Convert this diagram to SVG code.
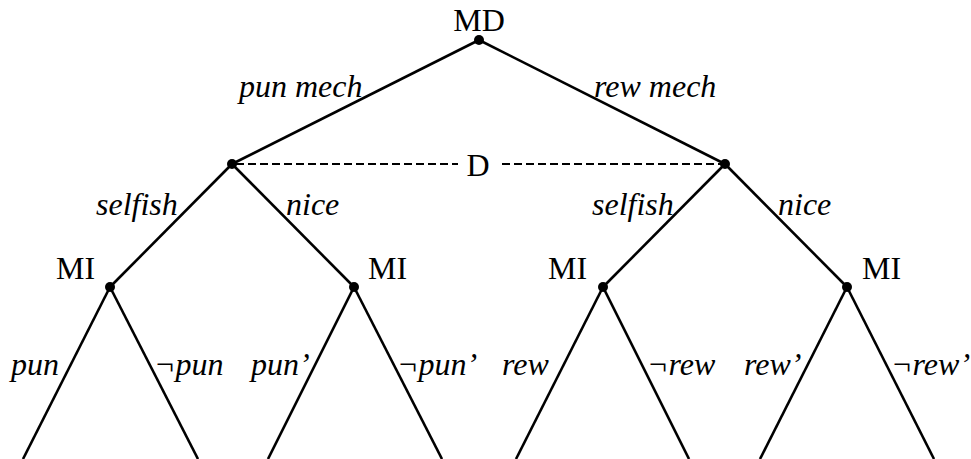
<svg xmlns="http://www.w3.org/2000/svg" width="971" height="459" viewBox="0 0 971 459">
<style>
  .edge { stroke: #000; stroke-width: 2.6; fill: none; stroke-linecap: butt; }
  .dash { stroke: #000; stroke-width: 2; fill: none; stroke-dasharray: 8 4; }
  .dot { fill: #000; }
  .lbl { font-family: "Liberation Serif", "Times New Roman", serif; font-size: 32px; fill: #000; }
  .it { font-family: "Liberation Serif", "Times New Roman", serif; font-size: 32px; font-style: italic; fill: #000; }
</style>
<rect width="971" height="459" fill="#fff"/>
<g id="connectors">
  <line class="edge" x1="479" y1="40" x2="232" y2="164"/>
  <line class="edge" x1="479" y1="40" x2="725" y2="164"/>
  <line class="edge" x1="232" y1="164" x2="110" y2="287"/>
  <line class="edge" x1="232" y1="164" x2="354" y2="287"/>
  <line class="edge" x1="725" y1="164" x2="603" y2="287"/>
  <line class="edge" x1="725" y1="164" x2="847" y2="287"/>
  <line class="edge" x1="110" y1="287" x2="23" y2="459"/>
  <line class="edge" x1="110" y1="287" x2="198" y2="459"/>
  <line class="edge" x1="354" y1="287" x2="268" y2="459"/>
  <line class="edge" x1="354" y1="287" x2="442" y2="459"/>
  <line class="edge" x1="603" y1="287" x2="516" y2="459"/>
  <line class="edge" x1="603" y1="287" x2="689" y2="459"/>
  <line class="edge" x1="847" y1="287" x2="760" y2="459"/>
  <line class="edge" x1="847" y1="287" x2="934" y2="459"/>
  <line class="dash" x1="236" y1="164" x2="458" y2="164"/>
  <line class="dash" x1="502" y1="164" x2="721" y2="164"/>
  <text class="it" x="239" y="97">pun mech</text>
  <text class="it" x="594" y="97">rew mech</text>
  <text class="it" x="96" y="215">selfish</text>
  <text class="it" x="286" y="215">nice</text>
  <text class="it" x="592" y="215">selfish</text>
  <text class="it" x="778" y="215">nice</text>
  <text class="it" x="11" y="375">pun</text>
  <text class="it" x="154" y="375">¬pun</text>
  <text class="it" x="251" y="375">pun’</text>
  <text class="it" x="397" y="375">¬pun’</text>
  <text class="it" x="502" y="375">rew</text>
  <text class="it" x="647" y="375">¬rew</text>
  <text class="it" x="744" y="375">rew’</text>
  <text class="it" x="891" y="375">¬rew’</text>
</g>
<g id="node-MD">
  <circle class="dot" cx="479" cy="40" r="5"/>
  <text class="lbl" x="479" y="31" text-anchor="middle">MD</text>
</g>
<g id="node-D-left">
  <circle class="dot" cx="232" cy="164" r="5"/>
</g>
<g id="node-D-label">
  <text class="lbl" x="478" y="176" text-anchor="middle">D</text>
</g>
<g id="node-D-right">
  <circle class="dot" cx="725" cy="164" r="5"/>
</g>
<g id="node-MI-1">
  <circle class="dot" cx="110" cy="287" r="5"/>
  <text class="lbl" x="56" y="279">MI</text>
</g>
<g id="node-MI-2">
  <circle class="dot" cx="354" cy="287" r="5"/>
  <text class="lbl" x="368" y="279">MI</text>
</g>
<g id="node-MI-3">
  <circle class="dot" cx="603" cy="287" r="5"/>
  <text class="lbl" x="548" y="279">MI</text>
</g>
<g id="node-MI-4">
  <circle class="dot" cx="847" cy="287" r="5"/>
  <text class="lbl" x="862" y="279">MI</text>
</g>
</svg>
